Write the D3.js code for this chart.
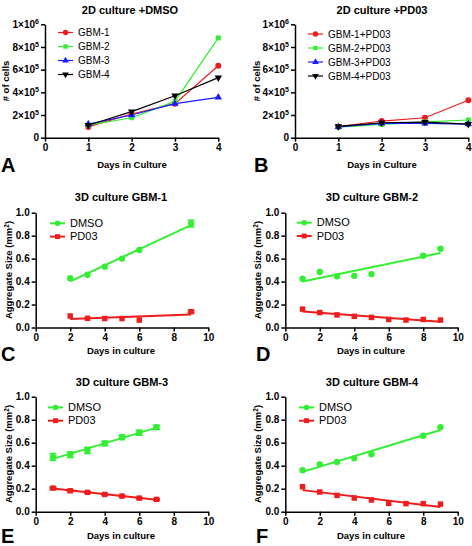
<!DOCTYPE html>
<html><head><meta charset="utf-8">
<script src="https://cdn.jsdelivr.net/npm/d3@7"></script>
<style>
body{margin:0;background:#fff}
svg{display:block}
text{font-family:"Liberation Sans",Arial,Helvetica,sans-serif}
</style>
</head><body>
<svg id="chart" width="472" height="546"></svg>
<script>
// ---------- DATA ----------
const days2D = [1, 2, 3, 4];
const dmsoGBM1 = [95000, 209000, 300000, 635000];
const dmsoGBM2 = [110000, 176000, 320000, 880000];
const dmsoGBM3 = [120000, 200000, 300000, 356000];
const dmsoGBM4 = [110000, 230000, 370000, 530000];
const pdGBM1 = [97000, 147000, 176000, 330000];
const pdGBM2 = [94000, 118000, 140000, 156000];
const pdGBM3 = [95000, 127000, 127000, 120000];
const pdGBM4 = [100000, 132000, 138000, 120000];
const yTicks2D = [0, 200000, 400000, 600000, 800000, 1000000];
const yTickLabels2D = ["0", "2×10|5", "4×10|5", "6×10|5", "8×10|5", "1×10|6"];
const xTicks2D = [0, 1, 2, 3, 4];

const xTicks3D = [0, 2, 4, 6, 8, 10];
const yTicks3D = [0, 0.2, 0.4, 0.6, 0.8, 1.0];

const daysC = [2, 3, 4, 5, 6, 9];
const cDMSO = [0.43, 0.46, 0.53, 0.60, 0.675, 0.905];
const cDMSOerr = [0, 0, 0, 0, 0, 0.03];
const cPD03 = [0.10, 0.08, 0.078, 0.078, 0.065, 0.138];
const cPD03err = [0, 0, 0, 0, 0, 0.01];

const daysDdmso = [1, 2, 3, 4, 5, 8, 9];
const dDMSO = [0.425, 0.483, 0.446, 0.45, 0.465, 0.625, 0.686];
const daysDpd = [1, 2, 3, 4, 5, 6, 7, 8, 9];
const dPD03 = [0.16, 0.13, 0.11, 0.097, 0.088, 0.07, 0.065, 0.07, 0.065];

const daysE = [1, 2, 3, 4, 5, 6, 7];
const eDMSO = [0.476, 0.496, 0.533, 0.594, 0.647, 0.687, 0.734];
const eDMSOerr = [0.03, 0.025, 0.027, 0.02, 0.02, 0.022, 0.018];
const ePD03 = [0.205, 0.182, 0.168, 0.15, 0.136, 0.118, 0.107];
const ePD03err = [0.008, 0.006, 0.006, 0.005, 0.005, 0.005, 0.005];

const daysFdmso = [1, 2, 3, 4, 5, 8, 9];
const fDMSO = [0.36, 0.412, 0.432, 0.464, 0.499, 0.66, 0.735];
const daysFpd = [1, 2, 3, 4, 5, 6, 7, 8, 9];
const fPD03 = [0.217, 0.171, 0.142, 0.119, 0.102, 0.073, 0.07, 0.07, 0.066];

// ---------- STYLE ----------
const RED = "#ee1c1c", GREEN = "#33ee33", BLUE = "#1a1aff", BLACK = "#000";
const svg = d3.select("#chart");

function symbolPath(kind, size) {
  if (kind === "circle") return d3.symbol(d3.symbolCircle, size)();
  if (kind === "square") return d3.symbol(d3.symbolSquare, size)();
  return d3.symbol(d3.symbolTriangle, size)();
}
function drawMarker(g, kind, x, y, color, size) {
  g.append("path").attr("d", symbolPath(kind, size))
    .attr("transform", `translate(${x},${y})` + (kind === "tridown" ? " rotate(180)" : ""))
    .attr("fill", color);
}

function styleAxis(sel) {
  sel.select(".domain").attr("stroke", "#000").attr("stroke-width", 1.5);
  sel.selectAll(".tick line").attr("stroke", "#000").attr("stroke-width", 1.5);
  sel.selectAll(".tick text").attr("font-size", 10).attr("font-weight", "bold").attr("fill", "#000")
    .style("font-family", '"Liberation Sans",Arial,sans-serif');
}

function frame(p) {
  const x = d3.scaleLinear().domain(p.xDomain).range(p.xRange);
  const y = d3.scaleLinear().domain(p.yDomain).range(p.yRange);
  const g = svg.append("g");
  const xa = g.append("g").attr("transform", `translate(0,${p.yRange[0]})`)
    .call(d3.axisBottom(x).tickValues(p.xTicks).tickSize(4).tickSizeOuter(0).tickPadding(2).tickFormat(d3.format("d")));
  styleAxis(xa);
  const ya = g.append("g").attr("transform", `translate(${p.xRange[0]},0)`)
    .call(d3.axisLeft(y).tickValues(p.yTicks).tickSize(4).tickSizeOuter(0).tickPadding(2)
      .tickFormat(p.yFmt || d3.format(".1f")));
  styleAxis(ya);
  if (p.yLabels) {
    ya.selectAll(".tick text").each(function (d, i) {
      const t = d3.select(this); const parts = p.yLabels[i].split("|");
      t.text(null);
      t.append("tspan").text(parts[0]);
      if (parts[1]) t.append("tspan").attr("dy", -4).attr("font-size", 7).text(parts[1]);
    });
  }
  g.append("text").attr("x", p.titleX).attr("y", p.titleY).attr("text-anchor", "middle")
    .attr("font-size", 11).attr("font-weight", "bold").text(p.title);
  g.append("text").attr("x", p.xLabX).attr("y", p.xLabY).attr("text-anchor", "middle")
    .attr("font-size", 9.5).attr("font-weight", "bold").text(p.xLabel);
  const yl = g.append("text").attr("transform", `translate(${p.yLabX},${p.yLabY}) rotate(-90)`)
    .attr("text-anchor", "middle").attr("font-size", 9.5).attr("font-weight", "bold");
  if (p.yLabel === "agg") {
    yl.append("tspan").text("Aggregate Size (mm");
    yl.append("tspan").attr("dy", -3).attr("font-size", 6.5).text("2");
    yl.append("tspan").attr("dy", 3).text(")");
  } else yl.text(p.yLabel);
  g.append("text").attr("x", p.letterX).attr("y", p.letterY).attr("font-size", 20)
    .attr("font-weight", "bold").text(p.letter);
  return { x, y, g };
}

function legend(g, items, lx, ly, dy, textFont) {
  items.forEach((it, i) => {
    const yy = ly + i * dy;
    g.append("line").attr("x1", lx).attr("x2", lx + 15).attr("y1", yy).attr("y2", yy)
      .attr("stroke", it.color).attr("stroke-width", it.lw);
    drawMarker(g, it.kind, lx + 7.5, yy, it.color, it.size);
    g.append("text").attr("x", lx + 20).attr("y", yy + 3.6).attr("font-size", textFont).text(it.name);
  });
}

// ---------- 2D PANELS ----------
function panel2D(p, series) {
  const { x, y, g } = frame(p);
  series.forEach(s => {
    const pts = days2D.map((d, i) => [x(d), y(s.values[i])]);
    g.append("path").attr("d", d3.line()(pts)).attr("fill", "none")
      .attr("stroke", s.color).attr("stroke-width", 1.2);
  });
  series.forEach(s => {
    days2D.forEach((d, i) => drawMarker(g, s.kind, x(d), y(s.values[i]), s.color, s.size));
  });
  legend(g, series.map(s => ({ ...s, lw: 1.2, size: s.size * 0.8 })), p.legX, p.legY, p.legDy, 10);
}

const base2D = {
  xDomain: [0, 4], yDomain: [0, 1000000], xTicks: xTicks2D, yTicks: yTicks2D,
  yLabels: yTickLabels2D, yFmt: d => d, yRange: [137.7, 24.3],
  xLabel: "Days in Culture", yLabel: "# of cells", titleY: 14, xLabY: 168, letterY: 172, legDy: 14
};

panel2D({ ...base2D, xRange: [45, 218.3], title: "2D culture +DMSO", titleX: 130,
  xLabX: 132, yLabX: 9, yLabY: 81, letter: "A", letterX: 1, legX: 58, legY: 32.5 }, [
  { name: "GBM-1", values: dmsoGBM1, color: RED, kind: "circle", size: 28 },
  { name: "GBM-2", values: dmsoGBM2, color: GREEN, kind: "square", size: 24 },
  { name: "GBM-3", values: dmsoGBM3, color: BLUE, kind: "triangle", size: 24 },
  { name: "GBM-4", values: dmsoGBM4, color: BLACK, kind: "tridown", size: 24 }
]);

panel2D({ ...base2D, xRange: [295, 468.3], title: "2D culture +PD03", titleX: 382,
  xLabX: 382, yLabX: 260, yLabY: 81, letter: "B", letterX: 254, legX: 308, legY: 34 }, [
  { name: "GBM-1+PD03", values: pdGBM1, color: RED, kind: "circle", size: 28 },
  { name: "GBM-2+PD03", values: pdGBM2, color: GREEN, kind: "square", size: 24 },
  { name: "GBM-3+PD03", values: pdGBM3, color: BLUE, kind: "triangle", size: 24 },
  { name: "GBM-4+PD03", values: pdGBM4, color: BLACK, kind: "tridown", size: 24 }
]);

// ---------- 3D PANELS ----------
function regress(xs, ys) {
  const mx = d3.mean(xs), my = d3.mean(ys);
  let sxy = 0, sxx = 0;
  xs.forEach((v, i) => { sxy += (v - mx) * (ys[i] - my); sxx += (v - mx) * (v - mx); });
  const b = sxy / sxx; return { a: my - b * mx, b };
}

function panel3D(p, series) {
  const { x, y, g } = frame(p);
  series.forEach(s => {
    const r = regress(s.days, s.values);
    const x0 = d3.min(s.days), x1 = d3.max(s.days);
    g.append("line").attr("x1", x(x0)).attr("x2", x(x1))
      .attr("y1", y(r.a + r.b * x0)).attr("y2", y(r.a + r.b * x1))
      .attr("stroke", s.color).attr("stroke-width", 2);
    s.days.forEach((d, i) => {
      const e = s.err ? s.err[i] : 0;
      if (e > 0) {
        const cx = x(d), ya = y(s.values[i] + e), yb = y(s.values[i] - e);
        g.append("line").attr("x1", cx).attr("x2", cx).attr("y1", ya).attr("y2", yb)
          .attr("stroke", s.color).attr("stroke-width", 1.5);
        [ya, yb].forEach(yy => g.append("line").attr("x1", cx - 3.5).attr("x2", cx + 3.5)
          .attr("y1", yy).attr("y2", yy).attr("stroke", s.color).attr("stroke-width", 1.5));
      }
      drawMarker(g, s.kind, x(d), y(s.values[i]), s.color, s.size);
    });
  });
  legend(g, series.map(s => ({ ...s, lw: 2, size: 24 })), p.legX, p.legY, p.legDy, 11);
}

const base3D = {
  xDomain: [0, 10], yDomain: [0, 1], xTicks: xTicks3D, yTicks: yTicks3D,
  xLabel: "Days in culture", yLabel: "agg", legDy: 13.3
};

panel3D({ ...base3D, xRange: [35.7, 208.3], yRange: [327.5, 212.7], title: "3D culture GBM-1",
  titleX: 121, titleY: 201, xLabX: 121, xLabY: 354, yLabX: 11.5, yLabY: 270, letter: "C",
  letterX: 1, letterY: 361, legX: 50, legY: 223.3 }, [
  { name: "DMSO", days: daysC, values: cDMSO, err: cDMSOerr, color: GREEN, kind: "circle", size: 32 },
  { name: "PD03", days: daysC, values: cPD03, err: cPD03err, color: RED, kind: "square", size: 30 }
]);

panel3D({ ...base3D, xRange: [285.3, 457.7], yRange: [327.5, 212.7], title: "3D culture GBM-2",
  titleX: 372, titleY: 201, xLabX: 371, xLabY: 354, yLabX: 261, yLabY: 270, letter: "D",
  letterX: 256, letterY: 361, legX: 296.7, legY: 222.7 }, [
  { name: "DMSO", days: daysDdmso, values: dDMSO, color: GREEN, kind: "circle", size: 32 },
  { name: "PD03", days: daysDpd, values: dPD03, color: RED, kind: "square", size: 30 }
]);

panel3D({ ...base3D, xRange: [35.7, 208.3], yRange: [511.7, 396.7], title: "3D culture GBM-3",
  titleX: 122, titleY: 386, xLabX: 121, xLabY: 539, yLabX: 11.5, yLabY: 454, letter: "E",
  letterX: 1, letterY: 543, legX: 48, legY: 407.4 }, [
  { name: "DMSO", days: daysE, values: eDMSO, err: eDMSOerr, color: GREEN, kind: "circle", size: 32 },
  { name: "PD03", days: daysE, values: ePD03, err: ePD03err, color: RED, kind: "square", size: 30 }
]);

panel3D({ ...base3D, xRange: [285.3, 457.7], yRange: [511.7, 396.7], title: "3D culture GBM-4",
  titleX: 372, titleY: 386, xLabX: 371, xLabY: 539, yLabX: 261, yLabY: 454, letter: "F",
  letterX: 256, letterY: 543, legX: 299, legY: 407.4 }, [
  { name: "DMSO", days: daysFdmso, values: fDMSO, color: GREEN, kind: "circle", size: 32 },
  { name: "PD03", days: daysFpd, values: fPD03, color: RED, kind: "square", size: 30 }
]);
</script>
</body></html>
